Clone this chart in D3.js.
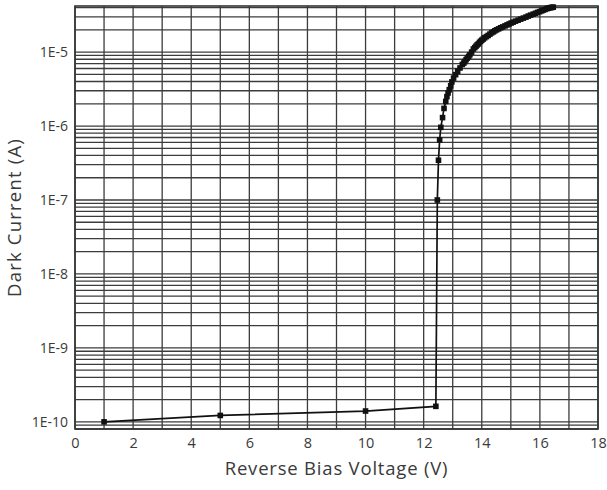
<!DOCTYPE html>
<html><head><meta charset="utf-8">
<script src="https://cdn.jsdelivr.net/npm/d3@7"></script>
<style>body{margin:0;background:#fff}svg{display:block}</style>
</head><body>
<script>
const voltage = [1, 5, 10, 12.42, 12.47, 12.51, 12.55, 12.59, 12.65, 12.70, 12.76, 12.80, 12.84, 12.88, 12.93, 12.97, 13.03, 13.10, 13.17, 13.25, 13.33, 13.38, 13.42, 13.46, 13.50, 13.55, 13.59, 13.65, 13.71, 13.76, 13.80, 13.84, 13.88, 13.92, 13.96, 14.00, 14.05, 14.10, 14.16, 14.22, 14.28, 14.34, 14.40, 14.45, 14.51, 14.58, 14.65, 14.72, 14.80, 14.87, 14.94, 15.01, 15.08, 15.16, 15.25, 15.34, 15.43, 15.52, 15.60, 15.68, 15.77, 15.85, 15.92, 15.99, 16.06, 16.12, 16.18, 16.24, 16.29, 16.34, 16.38, 16.42, 16.46];
const current = [1.0e-10, 1.22e-10, 1.4e-10, 1.62e-10, 1.0e-7, 3.45e-7, 6.5e-7, 9.6e-7, 1.3e-6, 1.73e-6, 2.15e-6, 2.5e-6, 2.8e-6, 3.1e-6, 3.5e-6, 3.95e-6, 4.45e-6, 4.95e-6, 5.5e-6, 6.1e-6, 6.8e-6, 7.1e-6, 7.45e-6, 7.9e-6, 8.3e-6, 8.75e-6, 9.2e-6, 1.0e-5, 1.1e-5, 1.15e-5, 1.2e-5, 1.25e-5, 1.29e-5, 1.35e-5, 1.4e-5, 1.45e-5, 1.5e-5, 1.56e-5, 1.62e-5, 1.68e-5, 1.75e-5, 1.82e-5, 1.88e-5, 1.94e-5, 2.0e-5, 2.06e-5, 2.13e-5, 2.19e-5, 2.26e-5, 2.33e-5, 2.4e-5, 2.47e-5, 2.54e-5, 2.62e-5, 2.7e-5, 2.79e-5, 2.88e-5, 2.97e-5, 3.07e-5, 3.16e-5, 3.26e-5, 3.35e-5, 3.44e-5, 3.52e-5, 3.61e-5, 3.7e-5, 3.78e-5, 3.86e-5, 3.93e-5, 3.97e-5, 4.0e-5, 4.03e-5, 4.05e-5];
const xTicks = [0, 2, 4, 6, 8, 10, 12, 14, 16, 18];
const yTicks = [1e-10, 1e-9, 1e-8, 1e-7, 1e-6, 1e-5];
const yTickLabels = ["1E-10", "1E-9", "1E-8", "1E-7", "1E-6", "1E-5"];
const xTitle = "Reverse Bias Voltage (V)";
const yTitle = "Dark Current (A)";

const W = 607, H = 490;
const m = {left: 75, right: 9, top: 6, bottom: 61};
const svg = d3.select("body").append("svg").attr("width", W).attr("height", H);
const x = d3.scaleLinear().domain([0, 18]).range([m.left, W - m.right]);
const y = d3.scaleLog().domain([8e-11, 4.2e-5]).range([H - m.bottom, m.top]);
const font = "'Open Sans', 'DejaVu Sans', sans-serif";
const gridColor = "#3c3c3c";

const g = svg.append("g");
g.selectAll("line.v").data(d3.range(0, 19)).join("line")
  .attr("x1", d => x(d)).attr("x2", d => x(d))
  .attr("y1", y.range()[0]).attr("y2", y.range()[1])
  .attr("stroke", gridColor).attr("stroke-width", 1.3);
const hLines = y.ticks(60).filter(v => v >= 8e-11 && v <= 4.2e-5);
g.selectAll("line.h").data(hLines).join("line")
  .attr("x1", x(0)).attr("x2", x(18))
  .attr("y1", d => y(d)).attr("y2", d => y(d))
  .attr("stroke", gridColor).attr("stroke-width", 1.3);
svg.append("rect").attr("x", x(0)).attr("y", m.top)
  .attr("width", x(18) - x(0)).attr("height", y.range()[0] - m.top)
  .attr("fill", "none").attr("stroke", "#333").attr("stroke-width", 1.6);

const xAxis = d3.axisBottom(x).tickValues(xTicks).tickSize(0).tickPadding(9);
const xa = svg.append("g").attr("transform", `translate(0,${y.range()[0]})`).call(xAxis);
xa.select(".domain").remove();
xa.selectAll("text").attr("font-family", font).attr("font-size", 14.5).attr("fill", "#3a3a3a");

const yAxis = d3.axisLeft(y).tickValues(yTicks).tickFormat((d, i) => yTickLabels[i]).tickSize(0).tickPadding(7);
const ya = svg.append("g").attr("transform", `translate(${x(0)},0)`).call(yAxis);
ya.select(".domain").remove();
ya.selectAll("text").attr("font-family", font).attr("font-size", 14).attr("fill", "#3a3a3a");

const pts = voltage.map((v, i) => ({v, c: current[i]}));
svg.append("path").datum(pts)
  .attr("d", d3.line().x(d => x(d.v)).y(d => y(d.c)))
  .attr("fill", "none").attr("stroke", "#111").attr("stroke-width", 1.7);
svg.selectAll("rect.pt").data(pts).join("rect")
  .attr("x", d => x(d.v) - 2.8).attr("y", d => y(d.c) - 2.8)
  .attr("width", 5.6).attr("height", 5.6).attr("fill", "#111");

svg.append("text").attr("x", (x(0) + x(18)) / 2).attr("y", 475)
  .attr("text-anchor", "middle").attr("font-family", font).attr("font-size", 18.5)
  .attr("letter-spacing", 0.8).attr("fill", "#3a3a3a").text(xTitle);
svg.append("text").attr("transform", `translate(21,${(y.range()[0] + m.top) / 2}) rotate(-90)`)
  .attr("text-anchor", "middle").attr("font-family", font).attr("font-size", 18.5)
  .attr("letter-spacing", 1.2).attr("fill", "#3a3a3a").text(yTitle);
</script>
</body></html>
